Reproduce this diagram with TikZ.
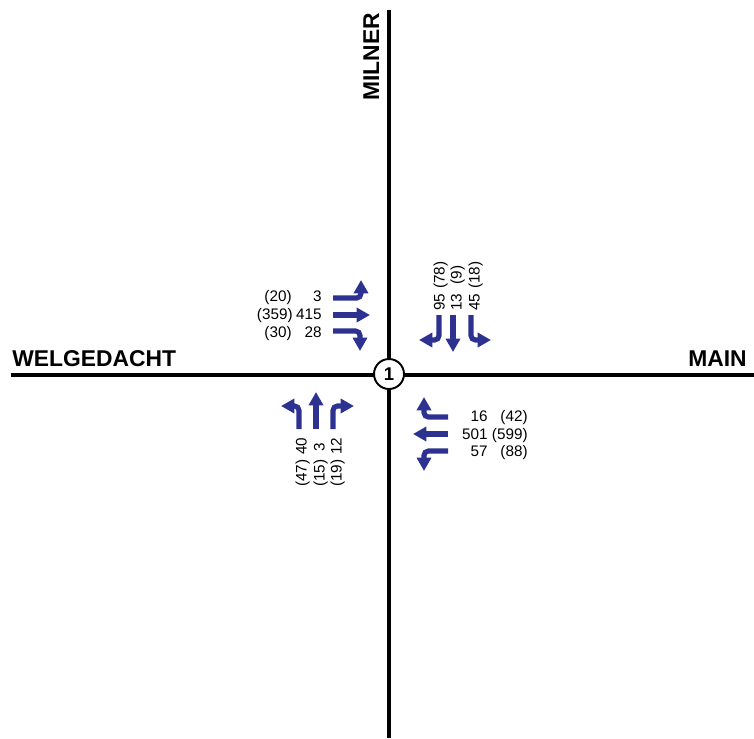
\documentclass[tikz,border=0pt]{standalone}
\usepackage{fontspec}
\setmainfont{Liberation Sans}
\usetikzlibrary{arrows.meta}
\definecolor{mvtblue}{RGB}{45,50,145}
\tikzset{
    road/.style={line width=2.6pt, black},
    roadname/.style={font=\fontsize{13}{15}\selectfont\bfseries, inner sep=0pt},
    mvt/.style={line width=2.9pt, mvtblue, rounded corners=2.5pt,
        -{Triangle[length=7.6pt, width=8pt]}},
    vol/.style={font=\fontsize{8.7}{10}\selectfont, inner sep=0pt},
}
\begin{document}
\begin{tikzpicture}[x=0.02cm, y=-0.02cm]
    \useasboundingbox (0,0) rectangle (754,738);

    % Roads
    \draw[road] (389,10) -- (389,738);
    \draw[road] (11,375) -- (754,375);
    \node[roadname, anchor=base west] (welgedacht) at (12,366) {WELGEDACHT};
    \node[roadname, anchor=base east] (main) at (747,366) {MAIN};
    \node[roadname, rotate=90, anchor=base west] (milner) at (379,101) {MILNER};
    \node[circle, draw, fill=white, line width=1.1pt, minimum size=0.6cm, inner sep=0pt,
        font=\fontsize{10.5}{12}\selectfont\bfseries] (node1) at (389,374) {1};

    % West approach
    \draw[mvt] (333,298) -- (361,298) -- (361,280);
    \draw[mvt] (333,315) -- (370,315);
    \draw[mvt] (333,331) -- (360,331) -- (360,351);
    \node[vol, anchor=mid east] (w1) at (322,297) {3};
    \node[vol, anchor=mid east] (w2) at (322,315) {415};
    \node[vol, anchor=mid east] (w3) at (322,333) {28};
    \node[vol, anchor=mid east] (w1p) at (292,297) {(20)};
    \node[vol, anchor=mid east] (w2p) at (293,315) {(359)};
    \node[vol, anchor=mid east] (w3p) at (292,333) {(30)};

    % North approach
    \draw[mvt] (439,315) -- (439,340) -- (419,340);
    \draw[mvt] (453,315) -- (453,352);
    \draw[mvt] (471,315) -- (471,340) -- (491,340);
    \node[vol, rotate=90, anchor=mid] (n1) at (440,302) {95};
    \node[vol, rotate=90, anchor=mid] (n2) at (457,302) {13};
    \node[vol, rotate=90, anchor=mid] (n3) at (475,302) {45};
    \node[vol, rotate=90, anchor=mid] (n1p) at (440,275) {(78)};
    \node[vol, rotate=90, anchor=mid] (n2p) at (457,275) {(9)};
    \node[vol, rotate=90, anchor=mid] (n3p) at (475,275) {(18)};

    % South approach
    \draw[mvt] (299,429) -- (299,406) -- (281,406);
    \draw[mvt] (316,429) -- (316,392);
    \draw[mvt] (333,429) -- (333,406) -- (354,406);
    \node[vol, rotate=90, anchor=mid] (s1) at (302,446) {40};
    \node[vol, rotate=90, anchor=mid] (s2) at (320,447) {3};
    \node[vol, rotate=90, anchor=mid] (s3) at (337,446) {12};
    \node[vol, rotate=90, anchor=mid] (s1p) at (302,473) {(47)};
    \node[vol, rotate=90, anchor=mid] (s2p) at (320,473) {(15)};
    \node[vol, rotate=90, anchor=mid] (s3p) at (337,473) {(19)};

    % East approach
    \draw[mvt] (448,417) -- (424,417) -- (424,397);
    \draw[mvt] (448,434) -- (413,434);
    \draw[mvt] (448,451) -- (424,451) -- (424,471);
    \node[vol, anchor=mid east] (e1) at (488,417) {16};
    \node[vol, anchor=mid east] (e2) at (488,435) {501};
    \node[vol, anchor=mid east] (e3) at (488,452) {57};
    \node[vol, anchor=mid east] (e1p) at (528,417) {(42)};
    \node[vol, anchor=mid east] (e2p) at (528,435) {(599)};
    \node[vol, anchor=mid east] (e3p) at (528,452) {(88)};
\end{tikzpicture}
\end{document}
